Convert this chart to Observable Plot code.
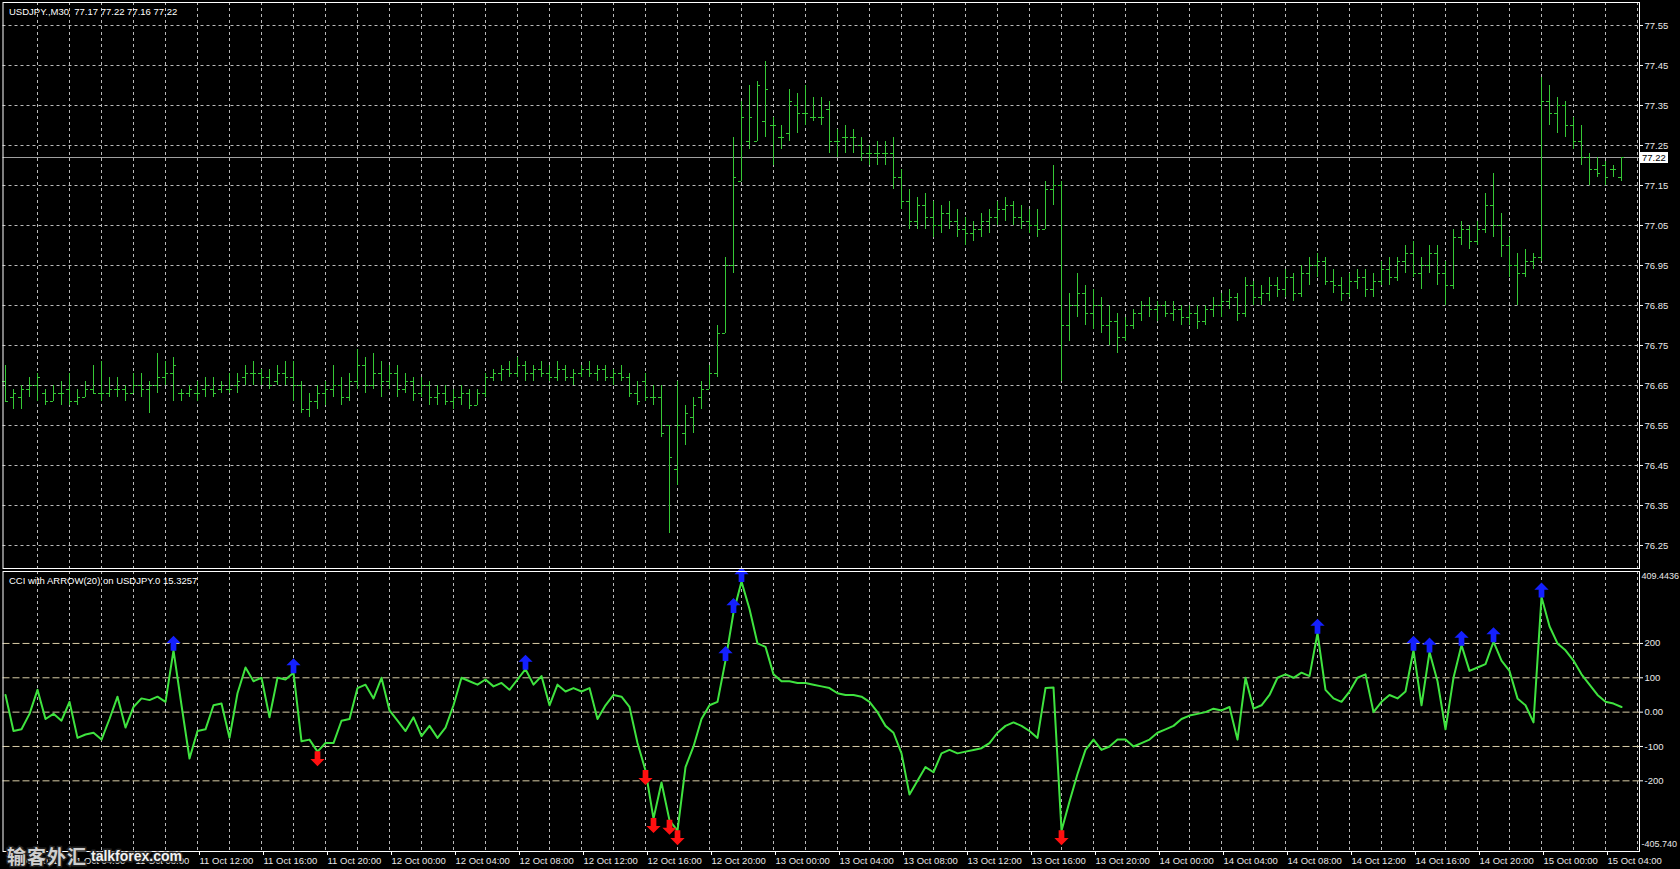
<!DOCTYPE html>
<html><head><meta charset="utf-8">
<script src="https://cdn.jsdelivr.net/npm/d3@7"></script>
<script src="https://cdn.jsdelivr.net/npm/@observablehq/plot@0.6"></script>
<style>
html,body{margin:0;padding:0;background:#000;width:1680px;height:869px;overflow:hidden;}
#wrap{position:relative;width:1680px;height:869px;}
#top,#bot{position:absolute;left:0;}
#top{top:0}
#bot{top:569px}
.lbl{position:absolute;color:#fff;font:9.5px "Liberation Sans",Arial,sans-serif;white-space:pre;}
.pbox{position:absolute;background:#fff;color:#000;font:9.5px "Liberation Sans",Arial,sans-serif;padding:0 2px;line-height:11px;}
.wm{position:absolute;white-space:pre;paint-order:stroke;-webkit-text-stroke:3px #222;}
.wm1{color:#cfcfcf;font:bold 19px "Noto Sans CJK SC",sans-serif;letter-spacing:1px;}
.wm2{color:#f2f2f2;font:bold 14px "Liberation Sans",Arial,sans-serif;}
</style></head><body><div id="wrap"><div id="top"></div><div id="bot"></div></div>
<script>
// ---------- data ----------
const symbolTitle = "USDJPY.,M30  77.17 77.22 77.16 77.22";
const cciTitle = "CCI with ARROW(20) on USDJPY.0 15.3257";
const watermarkCn = "输客外汇";
const watermarkEn = "talkforex.com";
const open = [76.66,76.62,76.62,76.64,76.65,76.63,76.61,76.63,76.64,76.61,76.62,76.64,76.63,76.63,76.64,76.64,76.63,76.65,76.64,76.65,
76.67,76.68,76.63,76.63,76.63,76.64,76.64,76.64,76.64,76.65,76.67,76.68,76.68,76.67,76.66,76.68,76.67,76.65,76.59,76.61,
76.63,76.64,76.65,76.62,76.66,76.70,76.65,76.68,76.66,76.68,76.64,76.66,76.63,76.65,76.62,76.63,76.61,76.62,76.63,76.60,
76.63,76.67,76.68,76.69,76.68,76.70,76.68,76.69,76.68,76.67,76.69,76.67,76.68,76.69,76.68,76.69,76.67,76.68,76.67,76.63,
76.66,76.62,76.62,76.55,76.44,76.53,76.57,76.62,76.64,76.68,76.78,76.95,77.16,77.26,77.26,77.31,77.30,77.27,77.28,77.35,
77.33,77.32,77.32,77.34,77.26,77.27,77.27,77.25,77.23,77.23,77.23,77.23,77.17,77.11,77.06,77.10,77.07,77.05,77.08,77.06,
77.04,77.03,77.04,77.06,77.07,77.09,77.10,77.07,77.06,77.05,77.04,77.14,77.15,76.80,76.85,76.88,76.83,76.85,76.80,76.81,
76.77,76.80,76.83,76.85,76.84,76.85,76.83,76.84,76.82,76.83,76.81,76.84,76.85,76.86,76.87,76.83,76.90,76.87,76.88,76.90,
76.89,76.92,76.88,76.93,76.95,76.96,76.91,76.90,76.88,76.91,76.92,76.89,76.91,76.94,76.92,76.96,76.98,76.93,76.95,76.98,
76.93,76.90,77.02,77.04,77.01,77.04,77.10,77.05,77.00,76.95,76.93,76.96,76.97,77.36,77.33,77.35,77.30,77.26,77.22,77.19,
77.20,77.19,77.17];
const high = [76.70,76.64,76.65,76.67,76.68,76.64,76.65,76.66,76.68,76.64,76.66,76.70,76.71,76.67,76.67,76.65,76.68,76.68,76.66,76.73,
76.71,76.72,76.64,76.65,76.66,76.67,76.67,76.66,76.68,76.68,76.70,76.71,76.69,76.69,76.70,76.71,76.71,76.66,76.63,76.65,
76.66,76.70,76.67,76.68,76.74,76.72,76.73,76.71,76.70,76.70,76.68,76.67,76.67,76.66,76.65,76.65,76.64,76.65,76.64,76.64,
76.68,76.69,76.70,76.71,76.72,76.71,76.70,76.71,76.70,76.71,76.70,76.69,76.70,76.71,76.70,76.70,76.69,76.70,76.68,76.66,
76.68,76.65,76.65,76.55,76.66,76.60,76.62,76.66,76.70,76.80,76.97,77.27,77.36,77.40,77.41,77.46,77.32,77.30,77.39,77.38,
77.40,77.37,77.37,77.36,77.29,77.30,77.29,77.27,77.25,77.26,77.26,77.27,77.19,77.14,77.12,77.13,77.11,77.10,77.11,77.09,
77.07,77.06,77.08,77.09,77.11,77.12,77.11,77.10,77.09,77.09,77.16,77.20,77.16,76.88,76.93,76.90,76.89,76.87,76.85,76.83,
76.82,76.84,76.86,76.87,76.86,76.86,76.86,76.85,76.85,76.85,76.85,76.87,76.88,76.89,76.88,76.92,76.91,76.90,76.92,76.92,
76.94,76.93,76.95,76.97,76.98,76.97,76.94,76.92,76.93,76.94,76.94,76.93,76.96,76.97,76.97,77.00,77.01,76.97,77.00,77.00,
76.96,77.04,77.06,77.05,77.06,77.13,77.18,77.08,77.02,76.98,76.99,76.98,77.42,77.40,77.37,77.36,77.32,77.30,77.23,77.22,
77.21,77.20,77.22];
const low = [76.61,76.59,76.59,76.62,76.61,76.60,76.61,76.60,76.60,76.60,76.62,76.63,76.61,76.62,76.62,76.61,76.63,76.62,76.58,76.63,
76.65,76.61,76.61,76.62,76.61,76.62,76.62,76.63,76.63,76.63,76.65,76.65,76.65,76.64,76.65,76.65,76.61,76.58,76.57,76.59,
76.60,76.62,76.60,76.61,76.64,76.63,76.64,76.62,76.64,76.62,76.63,76.61,76.62,76.60,76.60,76.60,76.59,76.60,76.59,76.60,
76.62,76.66,76.66,76.67,76.67,76.66,76.66,76.67,76.66,76.66,76.66,76.65,76.67,76.67,76.66,76.66,76.65,76.66,76.62,76.60,
76.61,76.60,76.52,76.28,76.40,76.50,76.53,76.59,76.64,76.67,76.78,76.93,77.16,77.24,77.26,77.27,77.20,77.24,77.26,77.28,
77.30,77.31,77.30,77.23,77.22,77.23,77.23,77.21,77.20,77.20,77.20,77.14,77.09,77.04,77.04,77.04,77.02,77.03,77.04,77.02,
77.00,77.01,77.02,77.03,77.05,77.06,77.05,77.04,77.03,77.02,77.04,77.10,76.66,76.76,76.82,76.80,76.79,76.78,76.75,76.73,
76.76,76.79,76.81,76.82,76.81,76.82,76.81,76.80,76.80,76.79,76.80,76.82,76.82,76.84,76.81,76.82,76.85,76.85,76.86,76.87,
76.87,76.86,76.87,76.90,76.92,76.90,76.88,76.86,76.87,76.89,76.87,76.87,76.90,76.90,76.91,76.93,76.92,76.89,76.93,76.90,
76.85,76.89,77.00,76.99,77.00,77.03,77.02,76.97,76.92,76.85,76.92,76.94,76.96,77.30,77.28,77.27,77.24,77.20,77.15,77.17,
77.15,77.17,77.16];
const close = [76.61,76.63,76.64,76.65,76.67,76.61,76.63,76.63,76.61,76.62,76.64,76.63,76.63,76.64,76.64,76.63,76.65,76.64,76.65,76.67,
76.68,76.70,76.63,76.64,76.63,76.65,76.63,76.65,76.64,76.66,76.68,76.68,76.67,76.65,76.68,76.67,76.65,76.59,76.61,76.63,
76.64,76.65,76.62,76.66,76.70,76.65,76.68,76.66,76.68,76.64,76.66,76.63,76.65,76.62,76.63,76.61,76.62,76.63,76.60,76.63,
76.67,76.68,76.69,76.68,76.70,76.68,76.69,76.68,76.67,76.69,76.67,76.68,76.69,76.68,76.69,76.67,76.68,76.67,76.63,76.61,
76.62,76.62,76.53,76.47,76.55,76.58,76.60,76.64,76.68,76.78,76.95,77.17,77.32,77.32,77.40,77.39,77.30,77.27,77.36,77.33,
77.33,77.32,77.32,77.26,77.26,77.27,77.27,77.23,77.23,77.23,77.23,77.17,77.11,77.06,77.10,77.07,77.05,77.08,77.06,77.04,
77.03,77.04,77.06,77.07,77.09,77.10,77.07,77.06,77.05,77.04,77.14,77.15,76.80,76.85,76.88,76.83,76.85,76.80,76.81,76.77,
76.80,76.83,76.85,76.84,76.85,76.83,76.84,76.82,76.83,76.81,76.84,76.85,76.86,76.87,76.83,76.90,76.87,76.88,76.90,76.89,
76.92,76.88,76.93,76.95,76.96,76.91,76.90,76.88,76.91,76.92,76.89,76.91,76.94,76.92,76.96,76.98,76.93,76.95,76.98,76.93,
76.90,77.02,77.04,77.01,77.04,77.10,77.05,77.00,76.95,76.93,76.96,76.97,77.36,77.33,77.35,77.30,77.26,77.22,77.19,77.18,
77.17,77.19,77.22];
const cci = [50,-55,-50,-5,65,-20,-5,-25,30,-75,-65,-60,-80,-20,45,-45,15,40,35,45,
30,180,20,-135,-55,-50,20,25,-75,55,130,90,100,-15,100,95,115,-85,-80,-115,
-90,-90,-25,-20,70,80,40,100,5,-25,-55,-15,-70,-40,-75,-45,20,100,90,80,
95,75,85,65,95,125,80,105,20,80,60,70,60,70,-20,20,50,45,15,-90,
-170,-310,-205,-315,-345,-160,-100,-20,20,30,150,290,380,300,200,190,110,90,90,85,
85,80,75,70,55,50,50,45,30,0,-40,-60,-120,-240,-200,-160,-175,-120,-110,-120,
-115,-110,-105,-90,-60,-40,-30,-40,-55,-75,70,72,-345,-260,-180,-110,-80,-110,-100,-80,
-80,-100,-90,-80,-60,-50,-40,-20,-10,-5,0,10,5,15,-80,100,10,20,50,100,
110,100,115,105,230,65,40,30,60,100,110,0,30,50,40,60,180,20,175,90,
-50,100,195,120,130,140,205,150,120,40,20,-30,335,250,200,180,150,110,80,50,
30,25,15];
const upArrowIdx = [21,36,65,90,91,92,164,176,178,182,186,192];
const downArrowIdx = [39,80,81,83,84,132];
const priceTicks = [77.55,77.45,77.35,77.25,77.15,77.05,76.95,76.85,76.75,76.65,76.55,76.45,76.35,76.25];
const cciLevels = [200,100,0,-100,-200];
const cciMax = 409.4436, cciMin = -405.740;
const timeLabels = ["11 Oct 2011","11 Oct 04:00","11 Oct 08:00","11 Oct 12:00","11 Oct 16:00","11 Oct 20:00",
"12 Oct 00:00","12 Oct 04:00","12 Oct 08:00","12 Oct 12:00","12 Oct 16:00","12 Oct 20:00",
"13 Oct 00:00","13 Oct 04:00","13 Oct 08:00","13 Oct 12:00","13 Oct 16:00","13 Oct 20:00",
"14 Oct 00:00","14 Oct 04:00","14 Oct 08:00","14 Oct 12:00","14 Oct 16:00","14 Oct 20:00",
"15 Oct 00:00","15 Oct 04:00"];
const lastPrice = 77.22;

// ---------- build ----------
const bars = open.map((o,i)=>({i, o, h:high[i], l:low[i], c:close[i]}));
const cciData = cci.map((v,i)=>({i, v}));
const tickIdx = timeLabels.map((_,k)=>k*8);
const gridIdx = d3.range(4, bars.length + 2, 4);
const green = "#35c835";
const gridStroke = "#b9b9b9";
const font = "'Liberation Sans', Arial, sans-serif";
const xDomain = [-0.3125, 204.25];

const upSym = {draw(ctx, size){ const r = Math.sqrt(size/Math.PI);
  ctx.moveTo(0,-r); ctx.lineTo(r*0.95,-r*0.05); ctx.lineTo(r*0.38,-r*0.05); ctx.lineTo(r*0.38,r);
  ctx.lineTo(-r*0.38,r); ctx.lineTo(-r*0.38,-r*0.05); ctx.lineTo(-r*0.95,-r*0.05); ctx.closePath(); }};
const downSym = {draw(ctx, size){ const r = Math.sqrt(size/Math.PI);
  ctx.moveTo(0,r); ctx.lineTo(r*0.95,r*0.05); ctx.lineTo(r*0.38,r*0.05); ctx.lineTo(r*0.38,-r);
  ctx.lineTo(-r*0.38,-r); ctx.lineTo(-r*0.38,r*0.05); ctx.lineTo(-r*0.95,r*0.05); ctx.closePath(); }};

const topPlot = Plot.plot({
  width: 1680, height: 569,
  marginLeft: 2.5, marginRight: 41, marginTop: 2, marginBottom: 1,
  style: {background: "#000", color: "#fff", fontFamily: font, fontSize: "9.5px"},
  x: {domain: xDomain, axis: null, label: null},
  y: {domain: [76.1925, 77.6075], axis: null, label: null},
  marks: [
    Plot.ruleX(gridIdx, {stroke: gridStroke, strokeDasharray: "3,3"}),
    Plot.ruleY(priceTicks, {stroke: gridStroke, strokeDasharray: "3,3"}),
    Plot.ruleY([lastPrice], {stroke: "#a0a0a0"}),
    Plot.ruleX(bars, {x: "i", y1: "l", y2: "h", stroke: green}),
    Plot.ruleY(bars, {y: "o", x1: d => d.i - 0.375, x2: "i", stroke: green}),
    Plot.ruleY(bars, {y: "c", x1: "i", x2: d => d.i + 0.375, stroke: green}),
    Plot.axisY(priceTicks, {anchor: "right", label: null, tickSize: 3, tickPadding: 2, tickFormat: d => d.toFixed(2), stroke: "#fff", fill: "#e8e8e8", fontSize: 9.5}),
    Plot.frame({stroke: "#fff"})
  ]
});
document.getElementById("top").appendChild(topPlot);

const botPlot = Plot.plot({
  width: 1680, height: 300,
  marginLeft: 2.5, marginRight: 41, marginTop: 2, marginBottom: 18,
  style: {background: "#000", color: "#fff", fontFamily: font, fontSize: "9.5px"},
  x: {domain: xDomain, axis: null, label: null},
  y: {domain: [cciMin, cciMax], axis: null, label: null},
  marks: [
    Plot.ruleX(gridIdx, {stroke: gridStroke, strokeDasharray: "3,3"}),
    Plot.ruleY(cciLevels, {stroke: "#d9cda6", strokeDasharray: "7,3"}),
    Plot.line(cciData, {x: "i", y: "v", stroke: "#3fe33f", strokeWidth: 2}),
    Plot.dot(upArrowIdx.map(i => ({i, v: cci[i]})), {x: "i", y: "v", symbol: upSym, r: 7.5, fill: "#1420ff", stroke: null, dy: -7}),
    Plot.dot(downArrowIdx.map(i => ({i, v: cci[i]})), {x: "i", y: "v", symbol: downSym, r: 7.5, fill: "#ff1010", stroke: null, dy: 7}),
    Plot.axisY(cciLevels, {anchor: "right", label: null, tickSize: 3, tickPadding: 2, tickFormat: d => d === 0 ? "0.00" : String(d), stroke: "#fff", fill: "#e8e8e8", fontSize: 9.5}),
    Plot.text([cciMax], {y: d => d, frameAnchor: "right", dx: 2, dy: 1, textAnchor: "start", lineAnchor: "top", text: d => d.toFixed(4), fill: "#e8e8e8", fontSize: 9}),
    Plot.text([cciMin], {y: d => d, frameAnchor: "right", dx: 2, dy: -5, textAnchor: "start", lineAnchor: "bottom", text: d => d.toFixed(3), fill: "#e8e8e8", fontSize: 9}),
    Plot.axisX(tickIdx, {anchor: "bottom", label: null, tickSize: 4, tickPadding: 2, tickFormat: (d, k) => timeLabels[k], textAnchor: "start", dx: 2, stroke: "#fff", fill: "#e8e8e8", fontSize: 9.5}),
    Plot.frame({stroke: "#fff"})
  ]
});
document.getElementById("bot").appendChild(botPlot);

// titles, price label, watermark
const wrap = document.getElementById("wrap");
function addLabel(text, x, y, cls){ const d = document.createElement("div"); d.className = cls; d.textContent = text; d.style.left = x + "px"; d.style.top = y + "px"; wrap.appendChild(d); return d; }
addLabel(symbolTitle, 9, 6, "lbl");
addLabel(cciTitle, 9, 575, "lbl");
const yLast = topPlot.scale("y").apply(lastPrice);
addLabel(lastPrice.toFixed(2), 1640, Math.round(yLast - 5.5), "pbox");
addLabel(watermarkCn, 7, 842, "wm wm1");
addLabel(watermarkEn, 91, 848, "wm wm2");
</script></body></html>
